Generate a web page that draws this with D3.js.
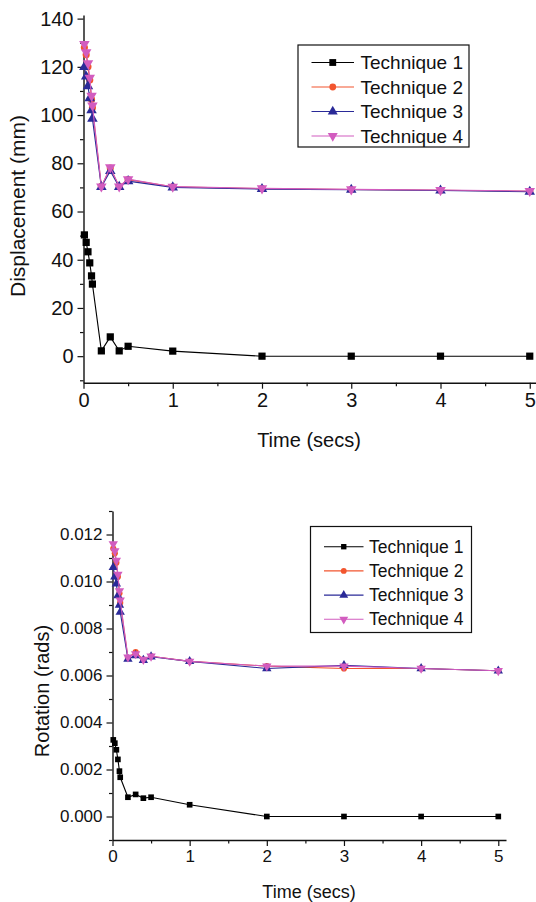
<!DOCTYPE html>
<html lang="en">
  <head>
    <meta charset="utf-8">
    <title>Displacement and Rotation</title>
    <script src="https://cdn.jsdelivr.net/npm/d3@7"></script>
    <style>
      body { margin: 0; background: #fff; }
      text { font-family: "Liberation Sans", Arial, sans-serif; fill: #111; }
    </style>
  </head>
  <body>
    <script type="text/javascript">

     // time samples shared by both plots
     var times = [0.01, 0.03, 0.05, 0.07, 0.09, 0.1, 0.2, 0.3, 0.4, 0.5, 1, 2, 3, 4, 5];
     var techniques = ["Technique 1", "Technique 2", "Technique 3", "Technique 4"];

     // displacement (mm)
     var disp1 = [50.3, 47.2, 43.3, 38.7, 33.3, 29.9, 2.2, 8.0, 2.2, 4.1, 2.1, 0, 0, 0, 0];
     var disp2 = [128, 125, 120, 114.5, 106.5, 103, 70.4, 78, 70.4, 73.2, 70.2, 69.5, 69.1, 68.8, 68.4];
     var disp3 = [120, 116, 112, 107, 102, 98.5, 70.2, 76.8, 70.2, 72.6, 70.0, 69.3, 69.0, 68.7, 68.2];
     var disp4 = [129.5, 126, 121.5, 115.5, 108, 104, 70.4, 78.3, 70.4, 73.4, 70.3, 69.6, 69.2, 68.9, 68.5];

     // rotation (rads)
     var rot1 = [0.00326, 0.00312, 0.00284, 0.00243, 0.00193, 0.00167, 0.00082, 0.00094, 0.00078, 0.00082, 0.00050, 0, 0, 0, 0];
     var rot2 = [0.0114, 0.0112, 0.0108, 0.0102, 0.0095, 0.0091, 0.00675, 0.0070, 0.00668, 0.00682, 0.0066, 0.0064, 0.0063, 0.0063, 0.0062];
     var rot3 = [0.0106, 0.0102, 0.0099, 0.0094, 0.0090, 0.0087, 0.0067, 0.00685, 0.00665, 0.0068, 0.0066, 0.0063, 0.00643, 0.0063, 0.0062];
     var rot4 = [0.0116, 0.0113, 0.0109, 0.0103, 0.0096, 0.0092, 0.00678, 0.00692, 0.00668, 0.00682, 0.0066, 0.0064, 0.0064, 0.0063, 0.0062];

     // tick values
     var xTicks = [0, 1, 2, 3, 4, 5];
     var xMinor = [0.5, 1.5, 2.5, 3.5, 4.5];
     var dispTicks = [0, 20, 40, 60, 80, 100, 120, 140];
     var dispMinor = [-10, 10, 30, 50, 70, 90, 110, 130];
     var rotTicks = [0, 0.002, 0.004, 0.006, 0.008, 0.010, 0.012];
     var rotMinor = [-0.001, 0.001, 0.003, 0.005, 0.007, 0.009, 0.011, 0.013];

     var colors = ["#000000", "#f2552e", "#2a2a98", "#d25cbf"];
     var shapes = [
       d3.symbol().type(d3.symbolSquare),
       d3.symbol().type(d3.symbolCircle),
       d3.symbol().type(d3.symbolTriangle),
       d3.symbol().type(d3.symbolTriangle)
     ];

     var width = 536, height = 902;
     var svg = d3.select("body").append("svg")
                 .attr("width", width)
                 .attr("height", height);

     function drawPanel(p) {
       var x = d3.scaleLinear().domain(p.xDomain).range(p.xRange);
       var y = d3.scaleLinear().domain(p.yDomain).range(p.yRange);
       var g = svg.append("g");
       var x0 = p.xRange[0], yBase = p.yRange[0];

       // minor ticks first
       g.append("g")
        .attr("transform", "translate(0," + yBase + ")")
        .call(d3.axisBottom(x).tickValues(xMinor).tickSize(3.5).tickFormat(""))
        .call(function (a) { a.select(".domain").remove(); });
       g.append("g")
        .attr("transform", "translate(" + x0 + ",0)")
        .call(d3.axisLeft(y).tickValues(p.yMinor).tickSize(3.5).tickFormat(""))
        .call(function (a) { a.select(".domain").remove(); });

       var xa = g.append("g")
                 .attr("transform", "translate(0," + yBase + ")")
                 .call(d3.axisBottom(x).tickValues(xTicks).tickSize(6).tickSizeOuter(0).tickPadding(p.xPad).tickFormat(d3.format("d")));
       xa.selectAll("text").style("font-size", p.tickFont + "px");

       var ya = g.append("g")
                 .attr("transform", "translate(" + x0 + ",0)")
                 .call(d3.axisLeft(y).tickValues(p.yTicks).tickSize(6).tickSizeOuter(0).tickPadding(4).tickFormat(p.yFormat));
       ya.selectAll("text").style("font-size", p.tickFont + "px");

       g.selectAll(".domain").attr("stroke", "#111").attr("stroke-width", 1.4);
       g.selectAll(".tick line").attr("stroke", "#111").attr("stroke-width", 1.2);
       g.selectAll(".tick text").attr("fill", "#111");

       // axis titles
       g.append("text")
        .attr("x", p.xTitlePos[0]).attr("y", p.xTitlePos[1])
        .attr("text-anchor", "middle")
        .style("font-size", p.xTitleFont + "px")
        .text("Time (secs)");
       g.append("text")
        .attr("transform", "translate(" + p.yTitlePos[0] + "," + p.yTitlePos[1] + ") rotate(-90)")
        .attr("text-anchor", "middle")
        .style("font-size", p.yTitleFont + "px")
        .text(p.yTitle);

       // series
       var line = d3.line()
                    .x(function (d) { return x(d[0]); })
                    .y(function (d) { return y(d[1]); });

       p.series.forEach(function (vals, i) {
         var pts = times.map(function (t, k) { return [t, vals[k]]; });
         g.append("path")
          .datum(pts)
          .attr("fill", "none")
          .attr("stroke", colors[i])
          .attr("stroke-width", 1.1)
          .attr("d", line);
         g.selectAll(".m" + i)
          .data(pts)
          .enter()
          .append("path")
          .attr("transform", function (d) {
            return "translate(" + x(d[0]) + "," + y(d[1]) + ")" + (i == 3 ? " rotate(180)" : "");
          })
          .attr("d", shapes[i].size(p.markSizes[i]))
          .attr("fill", colors[i]);
       });

       // legend
       var L = p.legend;
       g.append("rect")
        .attr("x", L.x).attr("y", L.y)
        .attr("width", L.w).attr("height", L.h)
        .attr("fill", "#fff")
        .attr("stroke", "#111")
        .attr("stroke-width", 1.2);
       techniques.forEach(function (name, i) {
         var ry = L.firstRow + i * L.step;
         g.append("line")
          .attr("x1", L.lineX[0]).attr("x2", L.lineX[1])
          .attr("y1", ry).attr("y2", ry)
          .attr("stroke", colors[i]).attr("stroke-width", 1.1);
         g.append("path")
          .attr("transform", "translate(" + (L.lineX[0] + L.lineX[1]) / 2 + "," + ry + ")" + (i == 3 ? " rotate(180)" : ""))
          .attr("d", shapes[i].size(p.markSizes[i] * 0.9))
          .attr("fill", colors[i]);
         g.append("text")
          .attr("x", L.textX).attr("y", ry)
          .attr("dy", "0.35em")
          .style("font-size", L.font + "px")
          .text(name);
       });
     }

     drawPanel({
       xDomain: [0, 5.07], xRange: [83.5, 536],
       yDomain: [-11, 141.5], yRange: [382.7, 15],
       yTicks: dispTicks, yMinor: dispMinor, yFormat: d3.format("d"),
       tickFont: 20, xPad: 4,
       xTitlePos: [309, 447], xTitleFont: 20,
       yTitle: "Displacement (mm)", yTitlePos: [25, 206], yTitleFont: 21,
       series: [disp1, disp2, disp3, disp4],
       markSizes: [52, 40, 48, 48],
       legend: { x: 298, y: 45, w: 171, h: 102, firstRow: 62.5, step: 24.5,
                 lineX: [311.5, 354], textX: 360.5, font: 19 }
     });

     drawPanel({
       xDomain: [0, 5.1], xRange: [112.5, 506],
       yDomain: [-0.001, 0.013], yRange: [840, 511],
       yTicks: rotTicks, yMinor: rotMinor, yFormat: d3.format(".3f"),
       tickFont: 17, xPad: 4,
       xTitlePos: [309, 898], xTitleFont: 18,
       yTitle: "Rotation (rads)", yTitlePos: [49, 691], yTitleFont: 20,
       series: [rot1, rot2, rot3, rot4],
       markSizes: [32, 30, 38, 38],
       legend: { x: 310.5, y: 526.5, w: 161, h: 106, firstRow: 546.7, step: 24.2,
                 lineX: [324, 363.5], textX: 369, font: 17.5 }
     });

    </script>
  </body>
</html>
